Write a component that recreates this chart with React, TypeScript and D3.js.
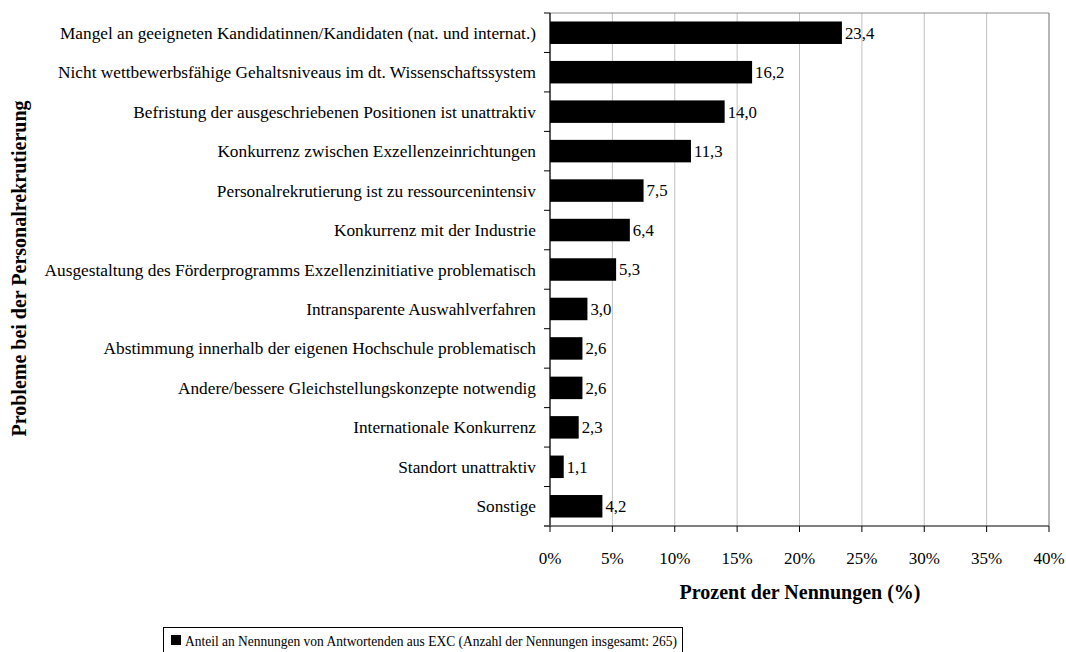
import React from "react";
import * as d3 from "d3";

const categories = [
  "Mangel an geeigneten Kandidatinnen/Kandidaten (nat. und internat.)",
  "Nicht wettbewerbsfähige Gehaltsniveaus im dt. Wissenschaftssystem",
  "Befristung der ausgeschriebenen Positionen ist unattraktiv",
  "Konkurrenz zwischen Exzellenzeinrichtungen",
  "Personalrekrutierung ist zu ressourcenintensiv",
  "Konkurrenz mit der Industrie",
  "Ausgestaltung des Förderprogramms Exzellenzinitiative problematisch",
  "Intransparente Auswahlverfahren",
  "Abstimmung innerhalb der eigenen Hochschule problematisch",
  "Andere/bessere Gleichstellungskonzepte notwendig",
  "Internationale Konkurrenz",
  "Standort unattraktiv",
  "Sonstige",
];
const values = [23.4, 16.2, 14.0, 11.3, 7.5, 6.4, 5.3, 3.0, 2.6, 2.6, 2.3, 1.1, 4.2];
const xTicks = [0, 5, 10, 15, 20, 25, 30, 35, 40];
const xTitle = "Prozent der Nennungen (%)";
const yTitle = "Probleme bei der Personalrekrutierung";
const legendLabel = "Anteil an Nennungen von Antwortenden aus EXC (Anzahl der Nennungen insgesamt: 265)";

const W = 1066;
const H = 652;
const M = { left: 550, right: 1049, top: 13, bottom: 526 };
const FONT = "'Liberation Serif', 'Times New Roman', serif";

export default function App() {
  const x = d3.scaleLinear().domain([0, 40]).range([M.left, M.right]);
  const y = d3.scaleBand<string>().domain(categories).range([M.top, M.bottom]).paddingInner(0.43).paddingOuter(0.215);
  const yOuter = d3.scaleBand<string>().domain(categories).range([M.top, M.bottom]);
  const fmt = d3.formatLocale({ decimal: ",", thousands: ".", grouping: [3], currency: ["", "€"] }).format(".1f");

  return (
    <svg width={W} height={H} style={{ position: "absolute", left: 0, top: 0, background: "#fff" }} fontFamily={FONT}>
      {/* gridlines */}
      {xTicks.slice(1).map((t) => (
        <line key={"g" + t} x1={x(t)} x2={x(t)} y1={M.top} y2={M.bottom} stroke="#c0c0c0" strokeWidth={1} />
      ))}
      {/* top and right border */}
      <line x1={M.left} x2={M.right} y1={M.top} y2={M.top} stroke="#8c8c8c" strokeWidth={1} />
      <line x1={M.right} x2={M.right} y1={M.top} y2={M.bottom} stroke="#8c8c8c" strokeWidth={1} />
      {/* bars */}
      {categories.map((c, i) => (
        <g key={c}>
          <rect x={x(0)} y={y(c)} width={x(values[i]) - x(0)} height={y.bandwidth()} fill="#000" />
          <text x={x(values[i]) + 3} y={(y(c) as number) + y.bandwidth() / 2} dy="0.35em" fontSize={16.8} fill="#000">
            {fmt(values[i])}
          </text>
          <text x={536} y={(y(c) as number) + y.bandwidth() / 2} dy="0.35em" fontSize={17.3} textAnchor="end" fill="#000">
            {c}
          </text>
        </g>
      ))}
      {/* y axis */}
      <line x1={M.left} x2={M.left} y1={M.top} y2={M.bottom} stroke="#000" strokeWidth={1.3} />
      {categories.map((c) => (
        <line key={"yt" + c} x1={M.left - 6} x2={M.left} y1={yOuter(c)} y2={yOuter(c)} stroke="#000" strokeWidth={1} />
      ))}
      <line x1={M.left - 6} x2={M.left} y1={M.bottom} y2={M.bottom} stroke="#000" strokeWidth={1} />
      {/* x axis */}
      <line x1={M.left - 6} x2={M.right} y1={M.bottom} y2={M.bottom} stroke="#555" strokeWidth={1.5} />
      {xTicks.map((t) => (
        <g key={"xt" + t}>
          <line x1={x(t)} x2={x(t)} y1={M.bottom} y2={M.bottom + 6} stroke="#000" strokeWidth={1} />
          <text x={x(t)} y={558} dy="0.35em" textAnchor="middle" fontSize={17} fill="#000">
            {t}%
          </text>
        </g>
      ))}
      <text x={800} y={592} dy="0.35em" textAnchor="middle" fontSize={20} fontWeight="bold" fill="#000">
        {xTitle}
      </text>
      <text transform={`translate(19,268.5) rotate(-90)`} dy="0.35em" textAnchor="middle" fontSize={20} fontWeight="bold" fill="#000">
        {yTitle}
      </text>
      {/* legend */}
      <rect x={163.5} y={627.5} width={519} height={25} fill="#fff" stroke="#000" strokeWidth={1} />
      <rect x={171} y={635} width={10} height={10} fill="#000" />
      <text x={185} y={641} dy="0.35em" fontSize={15.5} textLength={492} lengthAdjust="spacingAndGlyphs" fill="#000">
        {legendLabel}
      </text>
    </svg>
  );
}
